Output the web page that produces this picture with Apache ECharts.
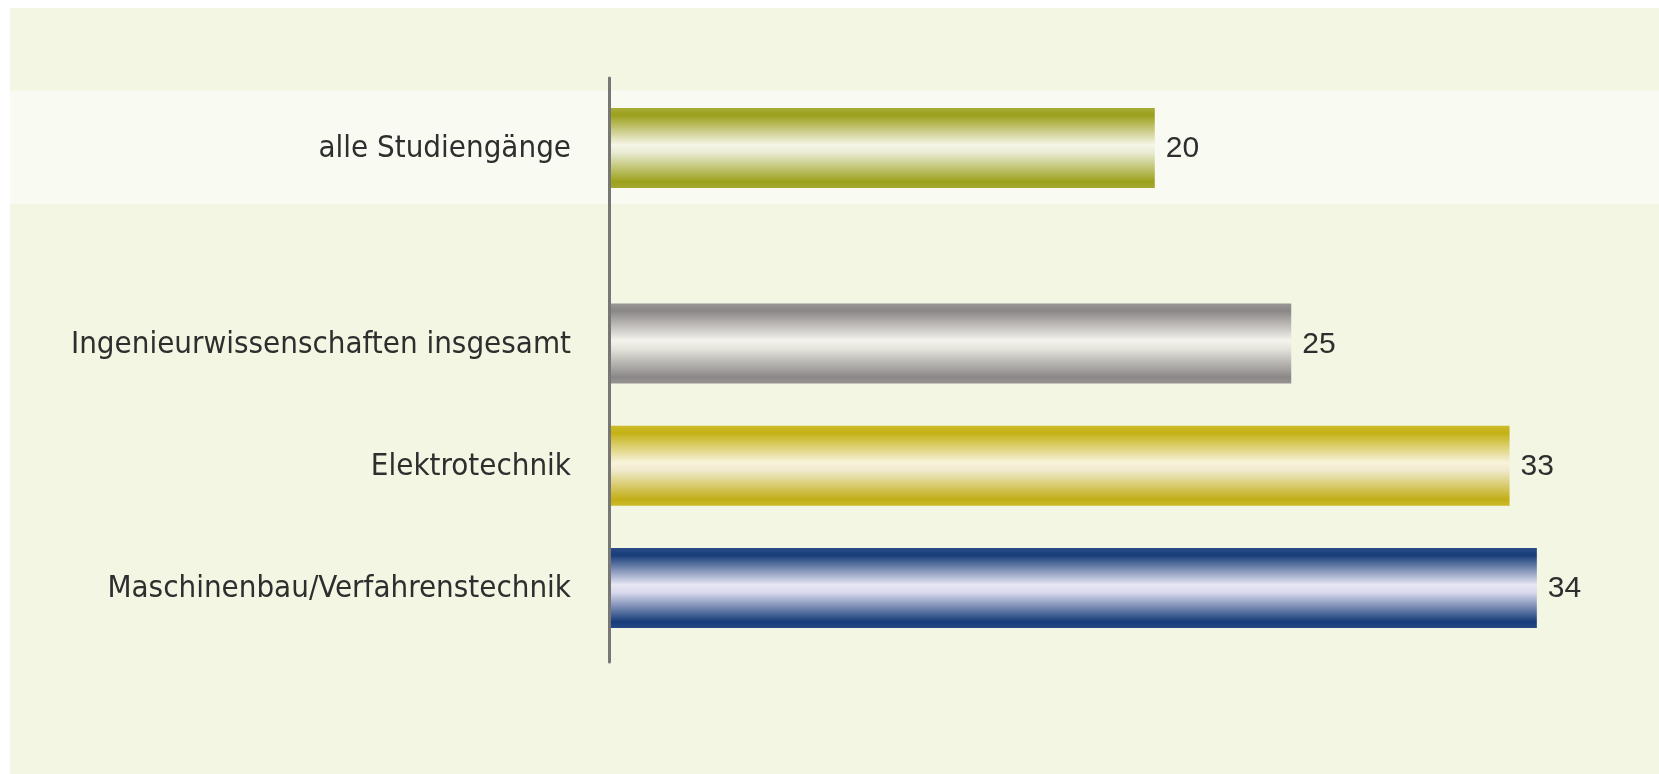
<!DOCTYPE html>
<html lang="de">
<head>
<meta charset="utf-8">
<title>Studienabbruch nach Studiengängen</title>
<script src="https://cdn.jsdelivr.net/npm/echarts@6/dist/echarts.min.js"></script>
<style>
  html, body { margin: 0; padding: 0; background: #ffffff; }
  #chart { width: 1659px; height: 774px; }
</style>
</head>
<body>
<div id="chart"></div>
<script>
// Kategorien und Werte (Prozent)
const categories = [
  'alle Studiengänge',
  'Ingenieurwissenschaften insgesamt',
  'Elektrotechnik',
  'Maschinenbau/Verfahrenstechnik'
];
const values = [20, 25, 33, 34];

// Lage der Zeilen auf der (versteckten) y-Achse: nach der ersten Zeile eine größere Lücke
const rowSlots = [0, 1.6, 2.6, 3.6];
// Balkendicke in Zeileneinheiten
const barThickness = 0.655;

// Farbverläufe der Balken: Kante dunkel, Mitte hell
const barPalettes = [
  ['#a8ac38', '#9ba01b', '#f6f5e8', '#e9ebd2', '#9ca11c', '#a4a82e'],
  ['#9a9696', '#8a8686', '#f4f3ec', '#e6e5dd', '#8b8787', '#979393'],
  ['#cdbb2c', '#c4b114', '#f8f3dc', '#efeacb', '#c2ae16', '#cbb92a'],
  ['#2a4d86', '#173c79', '#e8e7f4', '#d8d8ec', '#173d7a', '#244984']
];

const labelFont = '"Liberation Sans Narrow", "DejaVu Sans Condensed", "Liberation Sans", sans-serif';
const valueFont = '"Liberation Sans", "DejaVu Sans", sans-serif';

const seriesData = values.map((v, i) => [v, rowSlots[i]]);

const chart = echarts.init(document.getElementById('chart'), null, { renderer: 'canvas' });

function gradient(p) {
  return new echarts.graphic.LinearGradient(0, 0, 0, 1, [
    { offset: 0, color: p[0] },
    { offset: 0.09, color: p[1] },
    { offset: 0.46, color: p[2] },
    { offset: 0.56, color: p[3] },
    { offset: 0.92, color: p[4] },
    { offset: 1, color: p[5] }
  ]);
}

chart.setOption({
  backgroundColor: '#ffffff',
  animation: false,
  grid: { left: 609, right: 13, top: 78, bottom: 112, containLabel: false },
  xAxis: {
    type: 'value',
    min: 0,
    max: 38,
    show: false
  },
  yAxis: {
    type: 'value',
    inverse: true,
    min: -0.573,
    max: 4.206,
    z: 5,
    axisLine: { show: true, onZero: true, lineStyle: { color: '#777775', width: 3 } },
    axisTick: { show: false },
    axisLabel: { show: false },
    splitLine: { show: false }
  },
  series: [{
    type: 'custom',
    clip: false,
    data: seriesData,
    renderItem: function (params, api) {
      const i = params.dataIndex;
      const v = api.value(0);
      const slot = api.value(1);
      const topLeft = api.coord([0, slot - barThickness / 2]);
      const bottomRight = api.coord([v, slot + barThickness / 2]);
      const cy = (topLeft[1] + bottomRight[1]) / 2;
      return {
        type: 'group',
        children: [
          {
            type: 'rect',
            shape: {
              x: topLeft[0],
              y: topLeft[1],
              width: bottomRight[0] - topLeft[0],
              height: bottomRight[1] - topLeft[1]
            },
            style: { fill: gradient(barPalettes[i]) }
          },
          {
            type: 'text',
            x: bottomRight[0] + 11,
            y: cy + 1,
            style: {
              text: String(v),
              fill: '#2e2e2e',
              fontSize: 30,
              fontFamily: valueFont,
              align: 'left',
              verticalAlign: 'middle'
            }
          },
          {
            type: 'text',
            x: topLeft[0] - 38,
            y: cy + 1,
            style: {
              text: categories[i],
              fill: '#2e2e2e',
              fontSize: 31,
              fontFamily: labelFont,
              align: 'right',
              verticalAlign: 'middle'
            }
          }
        ]
      };
    }
  }]
});

// Hintergrundfläche und hervorgehobene erste Zeile
const bandTop = chart.convertToPixel({ yAxisIndex: 0 }, -0.47);
const bandBottom = chart.convertToPixel({ yAxisIndex: 0 }, 0.46);
chart.setOption({
  graphic: [
    {
      type: 'rect', z: -10, silent: true,
      shape: { x: 10, y: 8, width: 1649, height: 766 },
      style: { fill: '#f3f6e2' }
    },
    {
      type: 'rect', z: -9, silent: true,
      shape: { x: 10, y: bandTop, width: 1649, height: bandBottom - bandTop },
      style: { fill: '#f9faf1' }
    }
  ]
});
</script>
</body>
</html>
